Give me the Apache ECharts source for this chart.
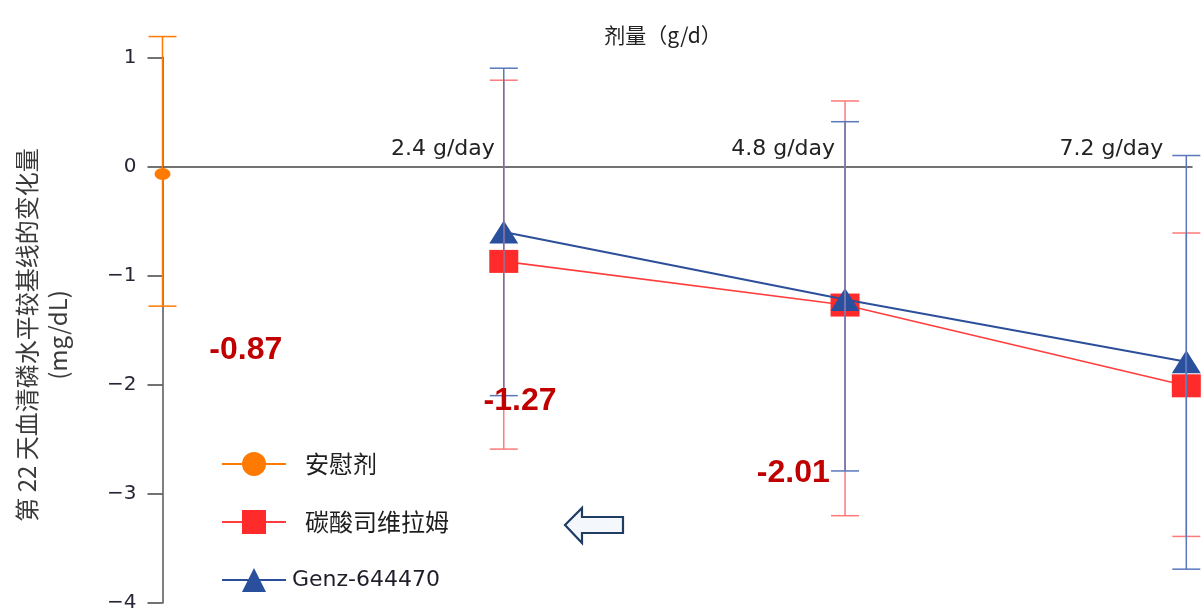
<!DOCTYPE html>
<html>
<head>
<meta charset="utf-8">
<title>第 22 天血清磷变化量</title>
<script src="https://cdn.jsdelivr.net/npm/echarts@6/dist/echarts.min.js"></script>
<style>
  html, body { margin: 0; padding: 0; background: #ffffff; }
  #chart { width: 1201px; height: 613px; }
</style>
</head>
<body>
<div id="chart"></div>
<script>
// Dose positions (g/day) and their captions
const doseValues = [2.4, 4.8, 7.2];
const doseLabels = ['2.4 g/day', '4.8 g/day', '7.2 g/day'];

// Placebo group (drawn at dose 0)
const placeboDose = [0];
const placeboMean = [-0.07];
const placeboLow = [-1.28];
const placeboHigh = [1.19];

// Sevelamer carbonate
const sevelamerMean = [-0.87, -1.27, -2.01];
const sevelamerLow = [-2.59, -3.20, -3.39];
const sevelamerHigh = [0.79, 0.60, -0.61];

// Genz-644470
const genzMean = [-0.60, -1.22, -1.79];
const genzLow = [-2.10, -2.79, -3.69];
const genzHigh = [0.90, 0.41, 0.10];

// Value axis range
const yMin = -4, yMax = 1, yStep = 1;

const seriesNames = ['安慰剂', '碳酸司维拉姆', 'Genz-644470'];

const LATIN = "'DejaVu Sans', 'Noto Sans CJK SC', sans-serif";
const CJK = "'Noto Sans CJK SC', 'DejaVu Sans', sans-serif";

const colors = {
  placebo: '#ff7a00',
  sevLine: '#ff3d3d',
  sevMark: '#ff2a2a',
  sevErr: '#ff7a7a',
  genzLine: '#2d4f9a',
  genzMark: '#2a4f9c',
  genzErr: '#5878bb',
  valueText: '#c00000'
};

// pixel offsets of the value call-outs relative to each sevelamer point
const calloutOffsets = [[-258, 89], [-325, 96], [-393, 87]];
// gap (px) between each dose caption's right edge and its dose position
const captionGaps = [9, 10, 23];

function pairs(xs, ys) {
  return xs.map((x, i) => [x, ys[i]]);
}

function errorBars(id, xs, lows, highs, color, z) {
  return {
    type: 'custom',
    id: id,
    silent: true,
    z: z,
    clip: false,
    data: xs.map((x, i) => [x, lows[i], highs[i]]),
    encode: { x: 0, y: [1, 2] },
    renderItem: function (params, api) {
      const x = api.value(0);
      const lo = api.coord([x, api.value(1)]);
      const hi = api.coord([x, api.value(2)]);
      const hw = 14;
      const st = { stroke: color, lineWidth: 1.5 };
      return {
        type: 'group',
        children: [
          { type: 'line', shape: { x1: hi[0], y1: hi[1], x2: lo[0], y2: lo[1] }, style: st },
          { type: 'line', shape: { x1: hi[0] - hw, y1: hi[1], x2: hi[0] + hw, y2: hi[1] }, style: st },
          { type: 'line', shape: { x1: lo[0] - hw, y1: lo[1], x2: lo[0] + hw, y2: lo[1] }, style: st }
        ]
      };
    }
  };
}

const chart = echarts.init(document.getElementById('chart'), null, { renderer: 'canvas' });

const option = {
  animation: false,
  backgroundColor: '#ffffff',
  title: {
    text: '剂量（g/d）',
    left: 658,
    top: 20,
    textAlign: 'center',
    textStyle: { fontSize: 21, fontWeight: 'normal', color: '#222222', fontFamily: CJK }
  },
  grid: { left: 162.5, right: 9, top: 57.3, bottom: 8 },
  legend: {
    data: seriesNames,
    orient: 'vertical',
    left: 216,
    top: 447,
    itemWidth: 64,
    itemHeight: 30,
    itemGap: 34,
    selectedMode: false,
    formatter: function (name) {
      return /Genz/.test(name) ? '{en|' + name + '}' : '{cn|' + name + '}';
    },
    textStyle: {
      color: '#1e1e1e',
      rich: {
        cn: { fontSize: 24, fontFamily: CJK, color: '#1e1e1e', padding: [0, 0, 0, 14] },
        en: { fontSize: 22, fontFamily: LATIN, color: '#1e1e2a', padding: [0, 0, 0, 1] }
      }
    }
  },
  xAxis: {
    type: 'value',
    min: 0,
    max: 7.24,
    interval: 2.4,
    axisLine: { show: true, onZero: true, lineStyle: { color: '#444444', width: 1.5 } },
    axisTick: { show: false },
    splitLine: { show: false },
    axisLabel: { show: false }
  },
  yAxis: {
    type: 'value',
    min: yMin,
    max: yMax,
    interval: yStep,
    axisLine: { show: true, lineStyle: { color: '#555555', width: 1.5 } },
    axisTick: { show: true, inside: false, length: 15, lineStyle: { color: '#444444', width: 1.5 } },
    splitLine: { show: false },
    axisLabel: {
      margin: 26,
      fontSize: 20,
      fontFamily: LATIN,
      color: '#262636',
      formatter: function (v) { return v < 0 ? '\u2212' + Math.abs(v) : String(v); }
    }
  },
  series: [
    {
      name: seriesNames[0],
      type: 'line',
      clip: false,
      z: 3,
      data: pairs(placeboDose, placeboMean),
      symbol: 'circle',
      symbolSize: [16, 12],
      lineStyle: { color: colors.placebo, width: 1.5 },
      itemStyle: { color: colors.placebo }
    },
    {
      name: seriesNames[1],
      type: 'line',
      clip: false,
      z: 3,
      data: pairs(doseValues, sevelamerMean),
      symbol: 'rect',
      symbolSize: [29, 23],
      lineStyle: { color: colors.sevLine, width: 1.6 },
      itemStyle: { color: colors.sevMark }
    },
    {
      name: seriesNames[2],
      type: 'line',
      clip: false,
      z: 4,
      data: pairs(doseValues, genzMean),
      symbol: 'triangle',
      symbolSize: [29, 23],
      lineStyle: { color: colors.genzLine, width: 2 },
      itemStyle: { color: colors.genzMark }
    },
    errorBars('placeboErr', placeboDose, placeboLow, placeboHigh, colors.placebo, 5),
    errorBars('sevelamerErr', doseValues, sevelamerLow, sevelamerHigh, colors.sevErr, 5),
    errorBars('genzErr', doseValues, genzLow, genzHigh, colors.genzErr, 6),
    {
      // dose captions sitting on the zero line, right-aligned to each dose
      id: 'doseCaptions',
      type: 'scatter',
      silent: true,
      clip: false,
      z: 7,
      symbolSize: 0,
      itemStyle: { opacity: 1 },
      data: doseValues.map((x, i) => ({
        value: [x, 0],
        label: { position: [-captionGaps[i], -6] }
      })),
      label: {
        show: true,
        align: 'right',
        verticalAlign: 'bottom',
        fontSize: 22,
        fontFamily: LATIN,
        color: '#222222',
        formatter: function (p) { return doseLabels[p.dataIndex]; }
      }
    },
    {
      // value call-outs for the sevelamer means
      id: 'sevelamerCallouts',
      type: 'scatter',
      silent: true,
      clip: false,
      z: 7,
      symbolSize: 0,
      itemStyle: { opacity: 1 },
      data: doseValues.map((x, i) => ({
        value: [x, sevelamerMean[i]],
        label: { offset: calloutOffsets[i] }
      })),
      label: {
        show: true,
        position: 'inside',
        align: 'center',
        verticalAlign: 'middle',
        fontSize: 32,
        fontWeight: 'bold',
        fontFamily: "'Liberation Sans', Arial, sans-serif",
        color: colors.valueText,
        formatter: function (p) { return p.value[1].toFixed(2); }
      }
    }
  ],
  graphic: [
    {
      type: 'text',
      x: 42,
      y: 335,
      rotation: Math.PI / 2,
      style: {
        text: '第 22 天血清磷水平较基线的变化量\n(mg/dL)',
        align: 'center',
        verticalAlign: 'middle',
        fontSize: 24,
        lineHeight: 31,
        fontFamily: CJK,
        fill: '#3a3a3a'
      }
    },
    {
      type: 'polygon',
      shape: {
        points: [[565, 525], [582, 508], [582, 517], [623, 517], [623, 533], [582, 533], [582, 543]]
      },
      style: { fill: '#f4f8fc', stroke: '#1f3d63', lineWidth: 2.2, lineJoin: 'miter' }
    }
  ]
};

chart.setOption(option);
</script>
</body>
</html>
